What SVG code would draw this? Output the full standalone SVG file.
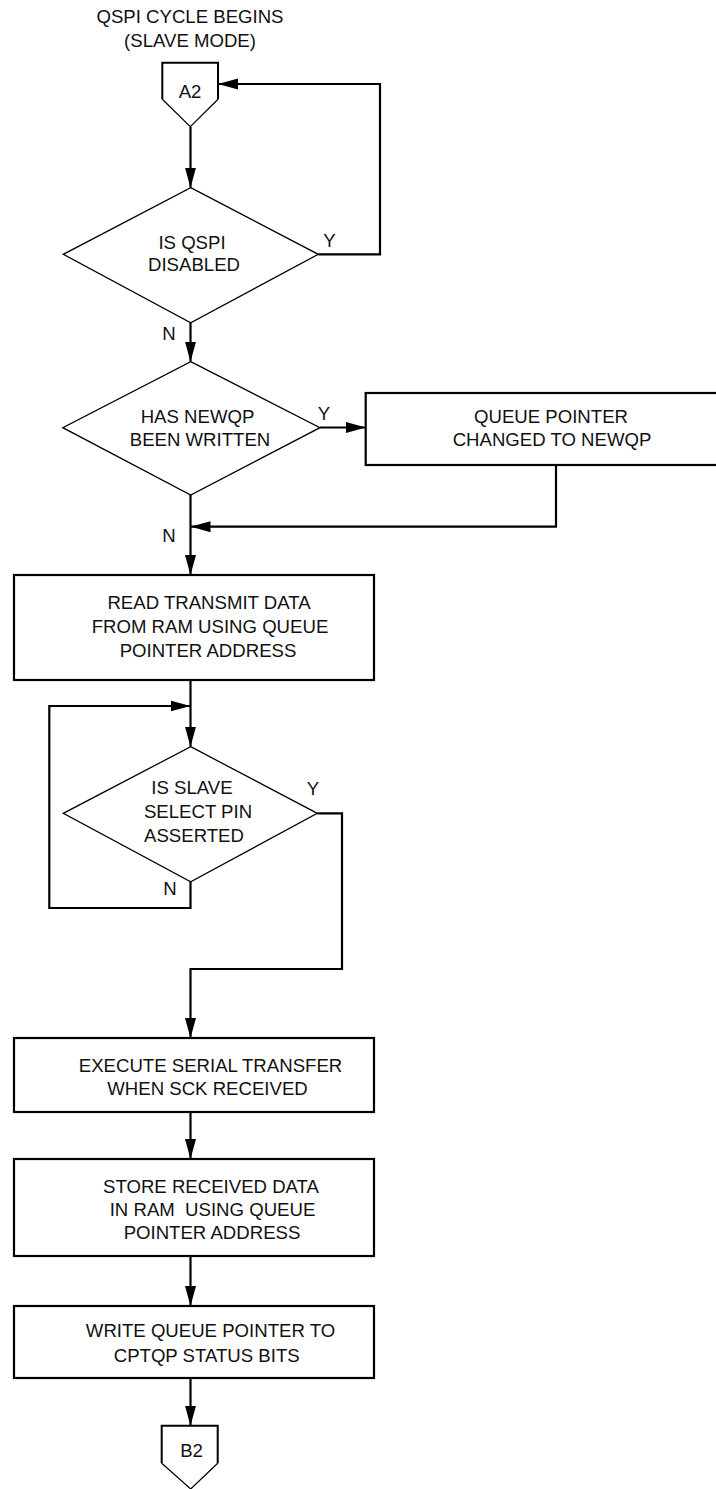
<svg xmlns="http://www.w3.org/2000/svg" width="716" height="1489" viewBox="0 0 716 1489">
<style>
text{font-family:"Liberation Sans",Arial,Helvetica,sans-serif;font-size:18.6px;fill:#111;text-anchor:middle}
.box{fill:#fff;stroke:#000;stroke-width:2.2}
.dia{fill:#fff;stroke:#000;stroke-width:1.3}
.pent{fill:#fff;stroke:#000;stroke-width:2}
.diag{fill:none;stroke:#000;stroke-width:1.2}
.wire{fill:none;stroke:#000;stroke-width:2.2}
.arr{marker-end:url(#ah)}
</style>
<defs>
<marker id="ah" markerUnits="userSpaceOnUse" markerWidth="20" markerHeight="12" refX="20" refY="5.5" orient="auto" viewBox="0 0 20 11">
<path d="M0,0 L20,5.5 L0,11 z" fill="#000"/>
</marker>
</defs>
<rect width="716" height="1489" fill="#fff"/>

<g id="title">
<text x="190" y="23">QSPI CYCLE BEGINS</text>
<text x="190" y="47">(SLAVE MODE)</text>
</g>

<g id="connectors">
<path class="wire arr" d="M190.5,127 L190.5,187.7"/>
<path class="wire arr" d="M318.3,254.3 L380,254.3 L380,84 L218,84"/>
<path class="wire arr" d="M190.5,322.7 L190.5,361.7"/>
<path class="wire arr" d="M320,427.5 L365.7,427.5"/>
<path class="wire arr" d="M556,465 L556,526.7 L190.5,526.7"/>
<path class="wire arr" d="M190.5,495 L190.5,575"/>
<path class="wire arr" d="M190.5,680 L190.5,746.7"/>
<path class="wire arr" d="M190.5,881.7 L190.5,908 L49.3,908 L49.3,706 L190.5,706"/>
<path class="wire arr" d="M317.3,813.3 L342,813.3 L342,969 L190.5,969 L190.5,1038"/>
<path class="wire arr" d="M190.5,1112 L190.5,1159"/>
<path class="wire arr" d="M190.5,1256 L190.5,1306"/>
<path class="wire arr" d="M190.5,1378 L190.5,1425.7"/>
</g>

<g id="labels">
<text x="329.5" y="247">Y</text>
<text x="169" y="340">N</text>
<text x="324" y="420">Y</text>
<text x="169" y="542">N</text>
<text x="313" y="795">Y</text>
<text x="170" y="895">N</text>
</g>

<g id="A2">
<path class="pent" d="M162.3,99.3 L162.3,62.7 L218,62.7 L218,99.3"/>
<path class="diag" d="M162.3,99.3 L190.3,126.7 L218,99.3"/>
<text x="190" y="98">A2</text>
</g>

<g id="qspi_disabled">
<polygon class="dia" points="190.7,187.7 318.3,254.3 190.7,322.7 63.3,254.3"/>
<text x="192" y="249">IS QSPI</text>
<text x="194" y="271">DISABLED</text>
</g>

<g id="newqp_written">
<polygon class="dia" points="190.7,361.7 320,427.7 190.7,495 62.8,427.7"/>
<text x="197.5" y="423">HAS NEWQP</text>
<text x="200" y="446">BEEN WRITTEN</text>
</g>

<g id="queue_pointer_changed">
<rect class="box" x="365.7" y="393" width="360" height="72"/>
<text x="551" y="423">QUEUE POINTER</text>
<text x="552" y="446">CHANGED TO NEWQP</text>
</g>

<g id="read_transmit">
<rect class="box" x="14" y="575" width="360" height="105"/>
<text x="209" y="609">READ TRANSMIT DATA</text>
<text x="210" y="633">FROM RAM USING QUEUE</text>
<text x="208" y="657">POINTER ADDRESS</text>
</g>

<g id="slave_select">
<polygon class="dia" points="190.7,746.7 317.3,813.3 190.7,881.7 63.3,813.3"/>
<text x="192" y="794">IS SLAVE</text>
<text x="198" y="818">SELECT PIN</text>
<text x="194" y="842">ASSERTED</text>
</g>

<g id="execute_transfer">
<rect class="box" x="14" y="1038" width="360" height="74"/>
<text x="210.5" y="1072">EXECUTE SERIAL TRANSFER</text>
<text x="207.5" y="1095">WHEN SCK RECEIVED</text>
</g>

<g id="store_received">
<rect class="box" x="14" y="1159" width="360" height="97"/>
<text x="211" y="1193">STORE RECEIVED DATA</text>
<text x="212.5" y="1216" style="white-space:pre">IN RAM  USING QUEUE</text>
<text x="212" y="1239">POINTER ADDRESS</text>
</g>

<g id="write_queue_pointer">
<rect class="box" x="14" y="1306" width="360" height="72"/>
<text x="210.5" y="1337">WRITE QUEUE POINTER TO</text>
<text x="206.7" y="1362">CPTQP STATUS BITS</text>
</g>

<g id="B2">
<path class="pent" d="M161.7,1463.3 L161.7,1425.7 L217.7,1425.7 L217.7,1463.3"/>
<path class="diag" d="M161.7,1463.3 L190.7,1489 L217.7,1463.3"/>
<text x="191.5" y="1457">B2</text>
</g>
</svg>
